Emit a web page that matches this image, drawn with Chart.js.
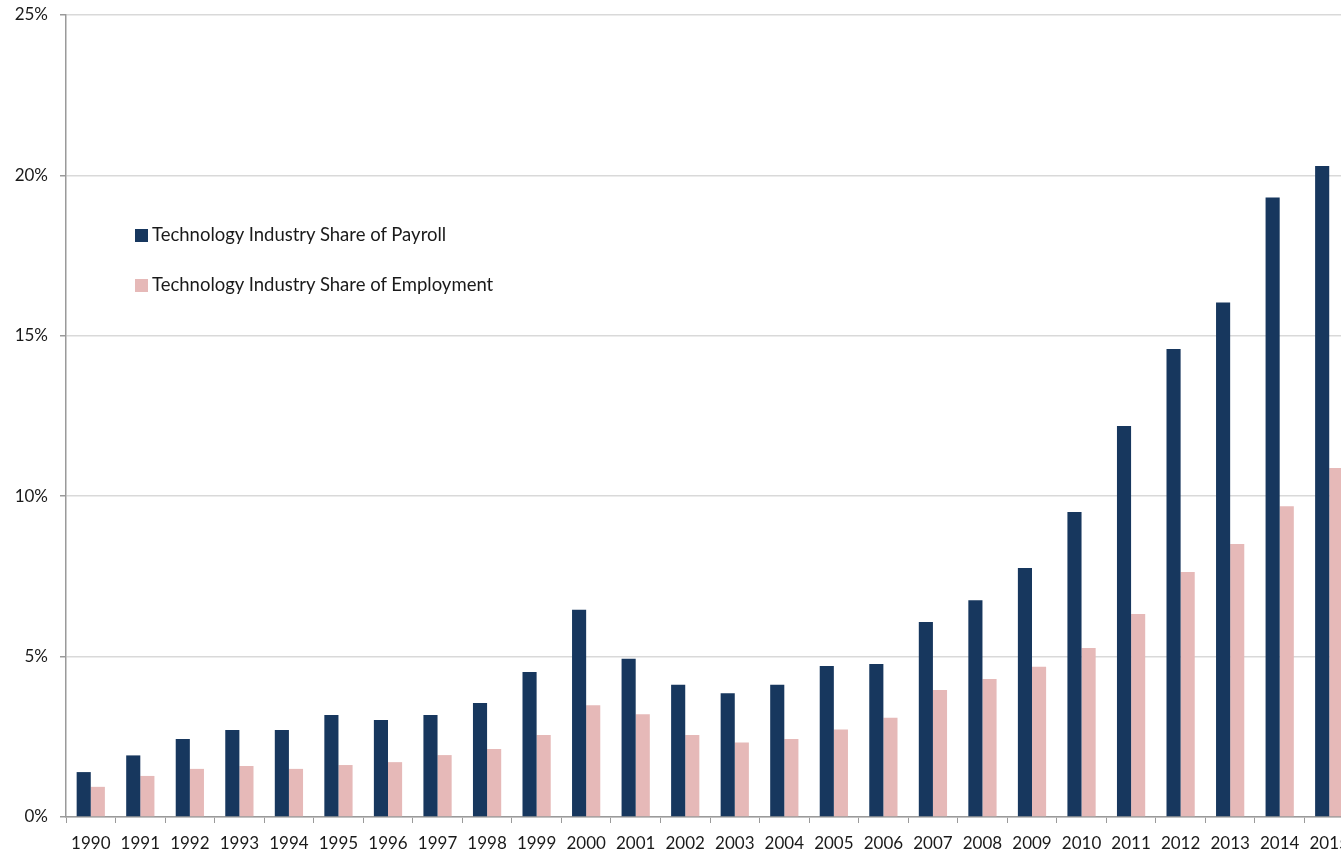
<!DOCTYPE html>
<html>
<head>
<meta charset="utf-8">
<script src="https://cdn.jsdelivr.net/npm/chart.js@4/dist/chart.umd.min.js"></script>
<style>
  html, body { margin: 0; padding: 0; background: #fff; overflow: hidden; }
  #wrap { position: relative; width: 1356px; height: 853px; }
  #legend { position: absolute; left: 135px; top: 222px; font-family: Lato, sans-serif; font-size: 18.5px; color: #1a1a1a; }
  #legend div { height: 24px; line-height: 24px; margin-bottom: 26px; white-space: nowrap; }
  #legend span { display: inline-block; width: 13px; height: 13px; margin-right: 4px; vertical-align: -1px; }
</style>
</head>
<body>
<div id="wrap">
  <canvas id="myChart" width="1356" height="853"></canvas>
  <div id="legend"></div>
</div>
<script>
// Tech share of payroll vs employment
var years = ['1990', '1991', '1992', '1993', '1994', '1995', '1996', '1997', '1998', '1999',
  '2000', '2001', '2002', '2003', '2004', '2005', '2006', '2007', '2008', '2009',
  '2010', '2011', '2012', '2013', '2014', '2015'];
var payroll = [1.40, 1.92, 2.43, 2.71, 2.71, 3.18, 3.02, 3.18, 3.55, 4.52,
  6.46, 4.93, 4.12, 3.86, 4.12, 4.71, 4.77, 6.08, 6.76, 7.76,
  9.51, 12.19, 14.59, 16.04, 19.31, 20.29];
var employment = [0.94, 1.28, 1.50, 1.59, 1.50, 1.62, 1.71, 1.93, 2.12, 2.56,
  3.48, 3.20, 2.56, 2.32, 2.43, 2.73, 3.09, 3.96, 4.30, 4.68,
  5.27, 6.33, 7.64, 8.51, 9.69, 10.88];
var seriesNames = ['Technology Industry Share of Payroll', 'Technology Industry Share of Employment'];
var seriesColors = ['#17375e', '#e6b9b8'];

var axisGray = '#9a9a9a';
var ctx = document.getElementById('myChart').getContext('2d');
var myChart = new Chart(ctx, {
    type: 'bar',
    data: {
        labels: years,
        datasets: [{
            label: seriesNames[0],
            data: payroll,
            backgroundColor: seriesColors[0]
        }, {
            label: seriesNames[1],
            data: employment,
            backgroundColor: seriesColors[1]
        }]
    },
    options: {
        responsive: false,
        animation: false,
        layout: { padding: { top: 15, right: 2, left: 0, bottom: 0 } },
        datasets: { bar: { categoryPercentage: 0.57, barPercentage: 1.0 } },
        plugins: {
            legend: { display: false },
            tooltip: { enabled: false }
        },
        scales: {
            x: {
                grid: { drawOnChartArea: false, drawTicks: true, tickLength: 6, color: axisGray },
                border: { color: axisGray, width: 1.5 },
                ticks: { color: '#1a1a1a', font: { family: 'Lato', size: 17 }, padding: 10, maxRotation: 0, autoSkip: false },
                afterFit: function (s) { s.height = 36; s.paddingLeft = 0; s.paddingRight = 0; }
            },
            y: {
                min: 0,
                max: 25,
                ticks: {
                    stepSize: 5,
                    color: '#1a1a1a',
                    font: { family: 'Lato', size: 17 },
                    padding: 12,
                    callback: function (v) { return v + '%'; }
                },
                grid: { color: '#d9d9d9', lineWidth: 1.5, tickColor: axisGray, tickLength: 6 },
                border: { color: axisGray, width: 1.5 },
                afterFit: function (s) { s.width = 66; s.paddingTop = 0; s.paddingBottom = 0; }
            }
        }
    }
});

var legend = document.getElementById('legend');
seriesNames.forEach(function (name, i) {
    var row = document.createElement('div');
    var sw = document.createElement('span');
    sw.style.background = seriesColors[i];
    row.appendChild(sw);
    row.appendChild(document.createTextNode(name));
    legend.appendChild(row);
});
</script>
</body>
</html>
